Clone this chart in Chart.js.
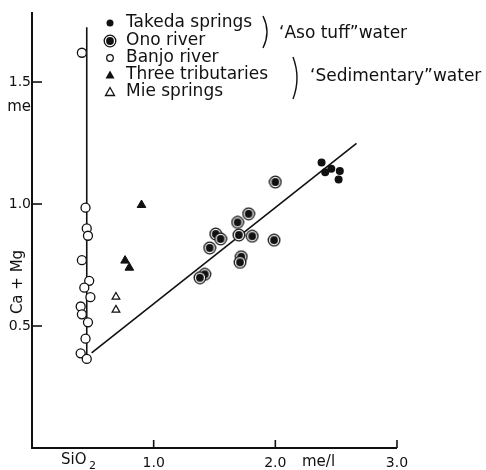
<!DOCTYPE html>
<html>
<head>
<meta charset="utf-8">
<script src="https://cdn.jsdelivr.net/npm/chart.js@4/dist/chart.umd.min.js"></script>
<style>
  html, body { margin: 0; padding: 0; background: #fff; }
  #box { width: 486px; height: 470px; }
</style>
</head>
<body>
<div id="box"><canvas id="grafico" width="486" height="470"></canvas></div>
<script>
// Dados (SiO2 em x, Ca+Mg em y, me/l)
const takedaX = [2.38, 2.41, 2.46, 2.53, 2.52];
const takedaY = [1.17, 1.13, 1.145, 1.135, 1.10];

const onoX = [2.0, 1.78, 1.69, 1.51, 1.55, 1.70, 1.81, 1.46, 1.99, 1.72, 1.71, 1.42, 1.38];
const onoY = [1.09, 0.96, 0.925, 0.877, 0.857, 0.873, 0.868, 0.82, 0.852, 0.784, 0.761, 0.712, 0.698];

const banjoX = [0.41, 0.44, 0.45, 0.46, 0.41, 0.47, 0.43, 0.48, 0.40, 0.41, 0.46, 0.44, 0.40, 0.45];
const banjoY = [1.62, 0.985, 0.90, 0.87, 0.77, 0.685, 0.657, 0.618, 0.58, 0.548, 0.515, 0.448, 0.388, 0.365];

const tribX = [0.90, 0.765, 0.80];
const tribY = [0.996, 0.768, 0.739];

const mieX = [0.69, 0.69];
const mieY = [0.619, 0.566];

// linhas: vertical do rio Banjo e reta de regressão
const verticalX = [0.45, 0.45];
const verticalY = [1.725, 0.37];
const retaX = [0.49, 2.667];
const retaY = [0.39, 1.249];

const ticksX = [1, 2, 3];
const rotulosX = ['1.0', '2.0', '3.0'];
const ticksY = [0.5, 1.0, 1.5];
const rotulosY = ['0.5', '1.0', '1.5'];

const legendaNomes = ['Takeda springs', 'Ono river', 'Banjo river', 'Three tributaries', 'Mie springs'];
const legendaEstilos = ['ponto', 'alvo', 'aberto', 'triangulo', 'trianguloAberto'];

const fonte = '"DejaVu Sans", sans-serif';

function pares(xs, ys) {
    return xs.map((x, i) => ({ x: x, y: ys[i] }));
}

// Símbolo "alvo" para o rio Ono
function criarAlvo() {
    const c = document.createElement('canvas');
    c.width = 14; c.height = 14;
    const g = c.getContext('2d');
    g.fillStyle = '#fff';
    g.strokeStyle = '#111';
    g.lineWidth = 1.3;
    g.beginPath(); g.arc(7, 7, 5.8, 0, Math.PI * 2); g.fill(); g.stroke();
    g.fillStyle = '#111';
    g.beginPath(); g.arc(7, 7, 3.9, 0, Math.PI * 2); g.fill();
    return c;
}
const imgAlvo = criarAlvo();

function desenharSimbolo(ctx, estilo, x, y) {
    ctx.save();
    ctx.lineWidth = 1.3;
    ctx.strokeStyle = '#111';
    ctx.fillStyle = '#111';
    if (estilo === 'ponto') {
        ctx.beginPath(); ctx.arc(x, y, 3.5, 0, Math.PI * 2); ctx.fill();
    } else if (estilo === 'alvo') {
        ctx.drawImage(imgAlvo, x - 7, y - 7);
    } else if (estilo === 'aberto') {
        ctx.fillStyle = '#fff';
        ctx.beginPath(); ctx.arc(x, y, 3.3, 0, Math.PI * 2); ctx.fill(); ctx.stroke();
    } else {
        ctx.beginPath();
        ctx.moveTo(x, y - 4.5); ctx.lineTo(x + 4.5, y + 3.5); ctx.lineTo(x - 4.5, y + 3.5); ctx.closePath();
        if (estilo === 'triangulo') ctx.fill(); else { ctx.fillStyle = '#fff'; ctx.fill(); ctx.stroke(); }
    }
    ctx.restore();
}

function chave(ctx, x, y1, y2) {
    const m = (y1 + y2) / 2;
    ctx.beginPath();
    ctx.moveTo(x - 3, y1);
    ctx.quadraticCurveTo(x + 5, m, x - 3, y2);
    ctx.stroke();
}

// Plugin que desenha eixos, marcas, rótulos e legenda
const pluginEixos = {
    id: 'eixos',
    afterDraw(chart) {
        const ctx = chart.ctx;
        const sx = chart.scales.x, sy = chart.scales.y;
        const x0 = sx.getPixelForValue(0), y0 = sy.getPixelForValue(0);
        const xMax = sx.getPixelForValue(3), yTop = chart.chartArea.top;
        ctx.save();
        ctx.strokeStyle = '#111';
        ctx.fillStyle = '#111';
        ctx.lineWidth = 2;
        ctx.beginPath();
        ctx.moveTo(x0, yTop); ctx.lineTo(x0, y0); ctx.lineTo(xMax, y0);
        ctx.stroke();

        ctx.lineWidth = 1.6;
        ctx.font = '14px ' + fonte;
        ctx.textAlign = 'center';
        ctx.textBaseline = 'top';
        ticksX.forEach((v, i) => {
            const px = sx.getPixelForValue(v);
            ctx.beginPath(); ctx.moveTo(px, y0); ctx.lineTo(px, y0 - 8); ctx.stroke();
            ctx.fillText(rotulosX[i], px, y0 + 8);
        });
        ctx.textAlign = 'right';
        ctx.textBaseline = 'middle';
        ticksY.forEach((v, i) => {
            const py = sy.getPixelForValue(v);
            ctx.beginPath(); ctx.moveTo(x0, py); ctx.lineTo(x0 + 10, py); ctx.stroke();
            ctx.fillText(rotulosY[i], x0 - 1, py);
        });

        // títulos dos eixos
        ctx.font = '15px ' + fonte;
        ctx.fillText('me', x0 - 1, sy.getPixelForValue(1.5) + 25);
        ctx.textAlign = 'left';
        ctx.textBaseline = 'top';
        ctx.fillText('SiO', 61, y0 + 5);
        ctx.font = '11px ' + fonte;
        ctx.fillText('2', 89, y0 + 13);
        ctx.font = '15px ' + fonte;
        ctx.fillText('me/l', 302, y0 + 7);
        ctx.save();
        ctx.translate(18, 282);
        ctx.rotate(-Math.PI / 2);
        ctx.textAlign = 'center';
        ctx.textBaseline = 'middle';
        ctx.fillText('Ca + Mg', 0, 0);
        ctx.restore();

        // legenda
        ctx.font = '17px ' + fonte;
        ctx.textBaseline = 'middle';
        const ysLeg = [23, 41, 58, 75, 92];
        legendaNomes.forEach((nome, i) => {
            desenharSimbolo(ctx, legendaEstilos[i], 110, ysLeg[i]);
            ctx.fillText(nome, 126, ysLeg[i]);
        });
        ctx.lineWidth = 1.4;
        chave(ctx, 266, 16, 48);
        ctx.fillText('\u2018Aso tuff\u201dwater', 279, 34);
        chave(ctx, 296, 57, 99);
        ctx.fillText('\u2018Sedimentary\u201dwater', 310, 77);
        ctx.restore();
    }
};

const datasets = [
    { label: 'Takeda springs', data: pares(takedaX, takedaY), pointStyle: 'circle', pointRadius: 4,
      backgroundColor: '#111', borderColor: '#111', borderWidth: 0 },
    { label: 'Ono river', data: pares(onoX, onoY), pointStyle: imgAlvo },
    { label: 'Banjo river', data: pares(banjoX, banjoY), pointStyle: 'circle', pointRadius: 4.5,
      backgroundColor: '#fff', borderColor: '#111', borderWidth: 1.3 },
    { label: 'Three tributaries', data: pares(tribX, tribY), pointStyle: 'triangle', pointRadius: 5,
      backgroundColor: '#111', borderColor: '#111', borderWidth: 1 },
    { label: 'Mie springs', data: pares(mieX, mieY), pointStyle: 'triangle', pointRadius: 4.5,
      backgroundColor: '#fff', borderColor: '#111', borderWidth: 1.2 },
    { label: 'vertical', data: pares(verticalX, verticalY), showLine: true, pointRadius: 0,
      borderColor: '#111', borderWidth: 1.6, order: 10 },
    { label: 'reta', data: pares(retaX, retaY), showLine: true, pointRadius: 0,
      borderColor: '#111', borderWidth: 1.6, order: 10 }
];

new Chart(document.getElementById('grafico').getContext('2d'), {
    type: 'scatter',
    data: { datasets: datasets },
    options: {
        responsive: false,
        animation: false,
        layout: { padding: { left: 32, right: 89, top: 12, bottom: 22 } },
        plugins: { legend: { display: false }, tooltip: { enabled: false } },
        scales: {
            x: { type: 'linear', min: 0, max: 3, display: false },
            y: { type: 'linear', min: 0, max: 1.787, display: false }
        }
    },
    plugins: [pluginEixos]
});
</script>
</body>
</html>
